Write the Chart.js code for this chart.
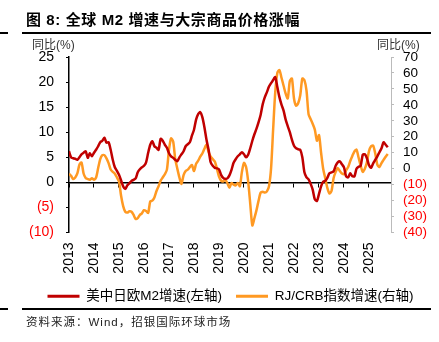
<!DOCTYPE html>
<html>
<head>
<meta charset="utf-8">
<script src="https://cdn.jsdelivr.net/npm/chart.js@4.4.0/dist/chart.umd.min.js"></script>
<style>
  html, body { margin: 0; padding: 0; background: #fff; overflow: hidden; }
  #wrap { position: relative; width: 439px; height: 342px; overflow: hidden;
          font-family: "Liberation Sans", "Noto Sans CJK SC", sans-serif; }
  #chart { position: absolute; left: 0; top: 0; }
  .title { position: absolute; left: 26px; top: 12px; font-size: 15px; line-height: 15px;
           font-weight: bold; color: #000; white-space: nowrap; letter-spacing: 0.6px; }
  .rule { position: absolute; height: 2px; background: #000; }
  .unit { position: absolute; top: 39px; font-size: 12px; line-height: 12px; color: #333; white-space: nowrap; }
  .source { position: absolute; left: 26px; top: 316px; font-size: 11.5px; line-height: 12px; color: #222;
            white-space: nowrap; letter-spacing: 1px; }
</style>
</head>
<body>
<div id="wrap">
  <canvas id="chart" width="461" height="342" style="width:461px;height:342px"></canvas>
  <div class="title">图 8: 全球 M2 增速与大宗商品价格涨幅</div>
  <div class="rule" style="left:0;top:32px;width:8px"></div>
  <div class="rule" style="left:22px;top:32px;width:409px"></div>
  <div class="unit" style="left:-4px">)</div>
  <div class="unit" style="left:32px">同比(%)</div>
  <div class="unit" style="left:377px">同比(%)</div>
  <div class="rule" style="left:0;top:308px;width:8px"></div>
  <div class="rule" style="left:22px;top:308px;width:409px"></div>
  <div class="source">资料来源：Wind，招银国际环球市场</div>
</div>
<script>
// monthly data, Jan 2013 .. Oct 2025
const startYear = 2013;
const yearTicks = [2013, 2014, 2015, 2016, 2017, 2018, 2019, 2020, 2021, 2022, 2023, 2024, 2025];
const leftTicks = [-10, -5, 0, 5, 10, 15, 20, 25];
const rightTicks = [-40, -30, -20, -10, 0, 10, 20, 30, 40, 50, 60, 70];
const seriesNames = ['美中日欧M2增速(左轴)', 'RJ/CRB指数增速(右轴)'];

const m2Growth = [
  6.2, 5.0, 4.8, 4.7, 4.5, 5.0, 5.6, 5.9, 6.2, 4.9, 5.8, 5.2,
  5.9, 6.5, 7.2, 8.0, 8.3, 8.9, 7.9, 8.0, 6.5, 4.5, 3.0, 2.3,
  1.5, 0.4, -0.8, -1.3, -0.6, -0.2, 0.3, 0.5, 0.8, 2.0, 2.6, 3.0,
  3.3, 4.0, 5.9, 7.5, 8.2, 7.2, 6.9, 6.5, 8.7, 8.3, 7.5, 6.9,
  5.8, 5.2, 4.9, 4.5, 4.2, 5.0, 5.6, 6.2, 7.2, 7.6, 8.0, 9.3,
  10.5, 12.5, 13.6, 14.0, 13.0, 11.0, 8.5, 6.5, 4.0, 3.3, 2.9, 2.8,
  2.6, 1.5, 0.9, 0.7, 0.8, 1.4, 2.5, 3.9, 4.6, 5.2, 5.6, 6.0,
  5.6, 5.0, 5.5, 6.8, 8.3, 9.6, 10.7, 12.0, 13.5, 15.6, 17.0, 18.0,
  19.1, 19.8, 20.4, 21.0, 19.0, 17.0, 15.5, 14.3, 12.5, 11.2, 10.0, 8.5,
  7.3, 6.8, 6.6, 6.5, 5.0, 2.0, 1.0, 0.6, -0.3, -1.5, -3.4, -3.7,
  -2.3, -0.8, 0.1, 0.3, 0.9, 1.8, 2.0, 2.2, 3.3, 4.0, 4.2, 3.6,
  3.0, 1.2, 1.0, 1.8, 1.2, 1.2, 2.7, 3.1, 3.3, 5.5, 5.6, 4.8,
  3.4, 2.9, 3.8, 4.5, 5.2, 6.0, 6.8, 8.0, 7.5, 7.0
];

const crbGrowth = [
  -3.1, -4.5, -6.5, -5.5, -3.0, 2.5, 3.9, -3.0, -5.8, -6.5, -6.9, -6.0,
  -6.9, -5.5, 0.4, 6.0, 8.5, 8.5, 6.5, 3.5, -0.5, -2.0, -3.1, -5.5,
  -8.0, -17.0, -23.5, -27.0, -27.5, -26.7, -27.0, -29.0, -31.5, -31.0, -29.0, -28.0,
  -26.0, -26.5, -27.7, -20.5, -20.0, -18.0, -14.0, -11.0, -7.5, -5.5, -3.5, -0.6,
  11.9, 19.0, 17.0, 6.0, 0.0, -5.5, -9.5, -4.0, -1.5, -0.6, 1.0, 2.3,
  -1.5, 3.0, 5.0, 7.5, 9.5, 12.5, 15.0, 10.5, 7.5, 6.0, 4.5, 0.0,
  -5.0, -7.5, -8.0, -7.0, -9.0, -12.0, -9.0, -10.0, -10.5, -8.9, -11.0, -2.0,
  3.6, 1.0, -8.0, -22.0, -35.5, -31.0, -26.0, -20.0, -15.0, -14.5, -15.0, -14.2,
  -11.0, 0.4, 25.0, 48.0, 60.0, 61.8, 57.0, 52.0, 47.0, 44.0, 55.0, 56.5,
  44.0, 39.5, 41.0, 46.0, 56.5, 55.5, 49.0, 34.0, 31.0, 28.0, 24.5, 17.5,
  21.0, 10.0, 0.0, -6.0, -12.0, -15.5, -14.0, -6.0, -2.0, 0.5, -1.5, -3.0,
  -3.5, -1.0, 1.0, 4.8, 8.0, 10.8, 11.9, 7.0, 2.0, -2.0, 0.0, 4.0,
  11.0, 14.0, 14.5, 9.5, 2.5, 1.0, 3.5, 5.5, 7.5, 9.2
];

const baseFont = '"Liberation Sans", "Noto Sans CJK SC", sans-serif';
const toPoints = arr => arr.map((v, i) => ({ x: startYear + i / 12, y: v }));
const fmt = v => v < 0 ? '(' + (-v) + ')' : String(v);
const negRed = c => (c.tick && c.tick.value < 0) ? '#FF0000' : '#000';
const useTicks = list => axis => { axis.ticks = list.map(v => ({ value: v })); };

const xMin = yearTicks[0];
const xMax = 2025.88;

new Chart(document.getElementById('chart'), {
  type: 'line',
  data: {
    datasets: [
      {
        label: seriesNames[0],
        data: toPoints(m2Growth),
        yAxisID: 'y',
        borderColor: '#C00000',
        backgroundColor: '#C00000',
        borderWidth: 2.5,
        pointRadius: 0,
        tension: 0.25,
        fill: false
      },
      {
        label: seriesNames[1],
        data: toPoints(crbGrowth),
        yAxisID: 'y1',
        borderColor: '#FF9922',
        backgroundColor: '#FF9922',
        borderWidth: 2.5,
        pointRadius: 0,
        tension: 0.25,
        fill: false
      }
    ]
  },
  options: {
    responsive: false,
    animation: false,
    layout: { padding: { top: 57, left: 0, right: 0, bottom: 29 } },
    plugins: {
      tooltip: { enabled: false },
      legend: {
        position: 'bottom',
        labels: {
          boxWidth: 32,
          boxHeight: 3,
          padding: 14,
          color: '#000',
          font: { size: 13.5, family: baseFont },
          generateLabels: chart =>
            Chart.defaults.plugins.legend.labels.generateLabels(chart).map(l => ({ ...l, lineWidth: 0 }))
        }
      }
    },
    scales: {
      x: {
        type: 'linear',
        position: 'bottom',
        min: xMin,
        max: xMax,
        grid: { display: false, drawTicks: false },
        border: { display: false },
        afterBuildTicks: useTicks(yearTicks),
        ticks: {
          autoSkip: false,
          minRotation: 90,
          maxRotation: 90,
          padding: 10,
          color: '#000',
          font: { size: 14, family: baseFont },
          callback: v => String(v)
        },
        afterFit: s => { s.height = 43; }
      },
      xz: {
        type: 'linear',
        axis: 'x',
        position: { y: 0 },
        min: xMin,
        max: xMax,
        grid: { drawOnChartArea: false, tickLength: 4, color: '#000', lineWidth: 1 },
        border: { color: '#000', width: 1.5 },
        afterBuildTicks: useTicks(yearTicks),
        ticks: { display: false }
      },
      y: {
        position: 'left',
        min: leftTicks[0],
        max: leftTicks[leftTicks.length - 1],
        afterBuildTicks: useTicks(leftTicks),
        grid: { drawOnChartArea: false, tickLength: 3, color: '#000' },
        border: { color: '#000', width: 1.5 },
        ticks: {
          autoSkip: false,
          callback: fmt,
          color: negRed,
          padding: 12,
          font: { size: 14, family: baseFont }
        },
        afterFit: s => { s.width = 69; }
      },
      y1: {
        position: 'right',
        min: rightTicks[0],
        max: rightTicks[rightTicks.length - 1],
        afterBuildTicks: useTicks(rightTicks),
        grid: { drawOnChartArea: false, tickLength: 3, color: '#BBBBBB' },
        border: { color: '#BBBBBB', width: 1 },
        ticks: {
          autoSkip: false,
          callback: fmt,
          color: negRed,
          padding: 9,
          font: { size: 13.5, family: baseFont }
        },
        afterFit: s => { s.width = 70; }
      }
    }
  }
});
</script>
</body>
</html>
